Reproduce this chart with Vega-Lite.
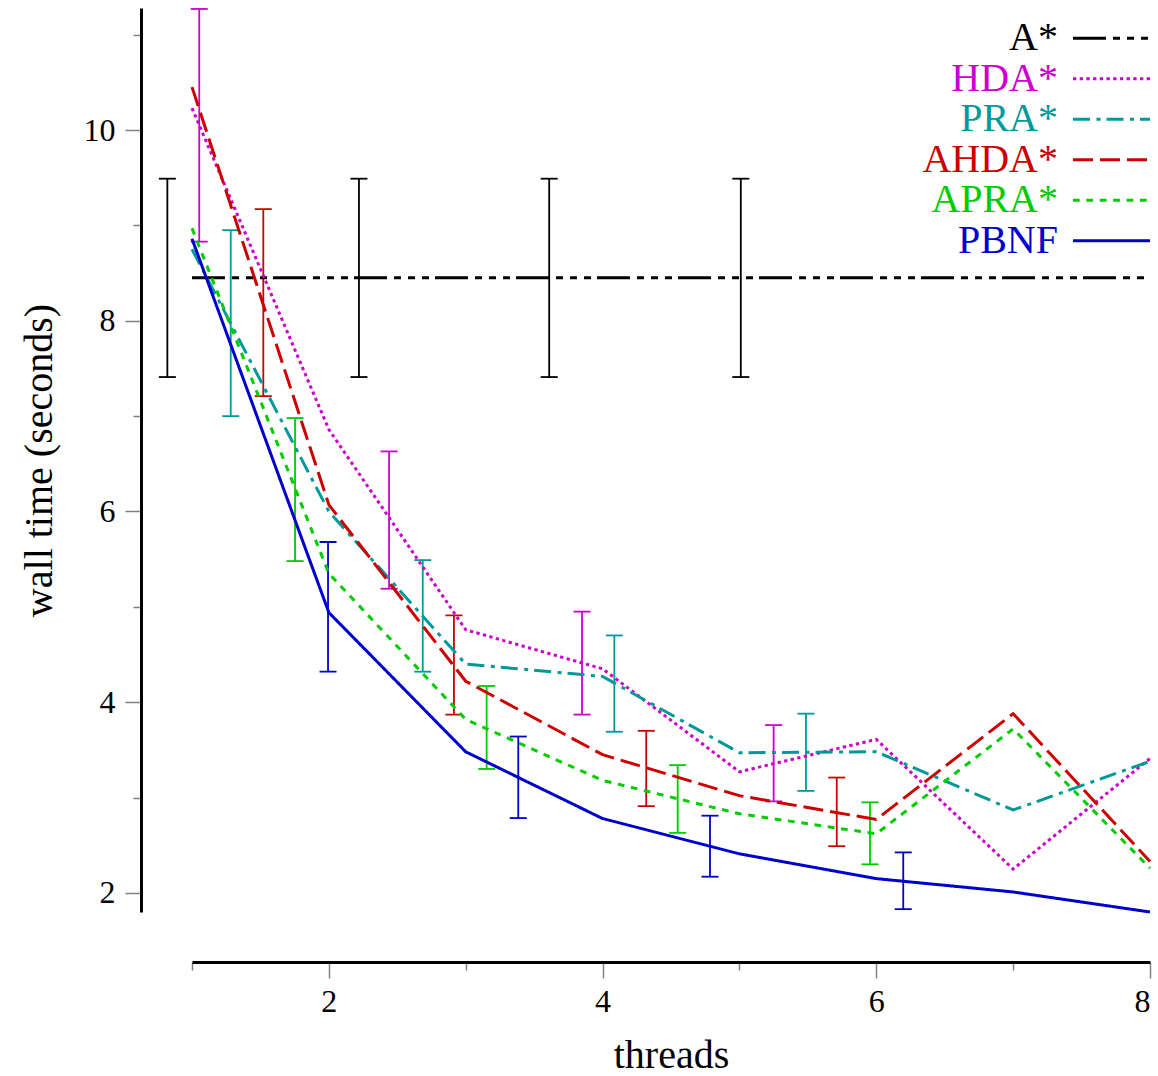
{
  "$schema": "https://vega.github.io/schema/vega-lite/v6.json",
  "width": 958,
  "height": 904,
  "autosize": {"type": "none"},
  "padding": {"left": 192, "top": 8, "right": 8, "bottom": 164},
  "background": "white",
  "config": {"view": {"stroke": null}, "font": "Liberation Serif"},
  "datasets": {
    "lines": [
      {"series": "A*", "threads": 1, "time": 8.45},
      {"series": "A*", "threads": 8, "time": 8.45},
      {"series": "HDA*", "threads": 1, "time": 10.23},
      {"series": "HDA*", "threads": 2, "time": 6.86},
      {"series": "HDA*", "threads": 3, "time": 4.76},
      {"series": "HDA*", "threads": 4, "time": 4.35},
      {"series": "HDA*", "threads": 5, "time": 3.27},
      {"series": "HDA*", "threads": 6, "time": 3.61},
      {"series": "HDA*", "threads": 7, "time": 2.25},
      {"series": "HDA*", "threads": 8, "time": 3.41},
      {"series": "PRA*", "threads": 1, "time": 8.75},
      {"series": "PRA*", "threads": 2, "time": 6.0},
      {"series": "PRA*", "threads": 3, "time": 4.4},
      {"series": "PRA*", "threads": 4, "time": 4.27},
      {"series": "PRA*", "threads": 5, "time": 3.47},
      {"series": "PRA*", "threads": 6, "time": 3.48},
      {"series": "PRA*", "threads": 7, "time": 2.87},
      {"series": "PRA*", "threads": 8, "time": 3.38},
      {"series": "AHDA*", "threads": 1, "time": 10.45},
      {"series": "AHDA*", "threads": 2, "time": 6.07},
      {"series": "AHDA*", "threads": 3, "time": 4.22},
      {"series": "AHDA*", "threads": 4, "time": 3.45},
      {"series": "AHDA*", "threads": 5, "time": 3.02},
      {"series": "AHDA*", "threads": 6, "time": 2.77},
      {"series": "AHDA*", "threads": 7, "time": 3.88},
      {"series": "AHDA*", "threads": 8, "time": 2.33},
      {"series": "APRA*", "threads": 1, "time": 8.97},
      {"series": "APRA*", "threads": 2, "time": 5.35},
      {"series": "APRA*", "threads": 3, "time": 3.82},
      {"series": "APRA*", "threads": 4, "time": 3.18},
      {"series": "APRA*", "threads": 5, "time": 2.83},
      {"series": "APRA*", "threads": 6, "time": 2.62},
      {"series": "APRA*", "threads": 7, "time": 3.72},
      {"series": "APRA*", "threads": 8, "time": 2.26},
      {"series": "PBNF", "threads": 1, "time": 8.86},
      {"series": "PBNF", "threads": 2, "time": 4.94},
      {"series": "PBNF", "threads": 3, "time": 3.48},
      {"series": "PBNF", "threads": 4, "time": 2.78},
      {"series": "PBNF", "threads": 5, "time": 2.41},
      {"series": "PBNF", "threads": 6, "time": 2.15},
      {"series": "PBNF", "threads": 7, "time": 2.01},
      {"series": "PBNF", "threads": 8, "time": 1.8}
    ],
    "bars": [
      {"series": "A*", "pos": 0.82, "lo": 7.41, "hi": 9.49},
      {"series": "A*", "pos": 2.22, "lo": 7.41, "hi": 9.49},
      {"series": "A*", "pos": 3.61, "lo": 7.41, "hi": 9.49},
      {"series": "A*", "pos": 5.01, "lo": 7.41, "hi": 9.49},
      {"series": "HDA*", "pos": 1.053, "lo": 8.83, "hi": 11.27},
      {"series": "HDA*", "pos": 2.44, "lo": 5.19, "hi": 6.63},
      {"series": "HDA*", "pos": 3.85, "lo": 3.87, "hi": 4.95},
      {"series": "HDA*", "pos": 5.25, "lo": 2.96, "hi": 3.76},
      {"series": "PRA*", "pos": 1.283, "lo": 7.0, "hi": 8.95},
      {"series": "PRA*", "pos": 2.686, "lo": 4.32, "hi": 5.49},
      {"series": "PRA*", "pos": 4.086, "lo": 3.69, "hi": 4.7},
      {"series": "PRA*", "pos": 5.486, "lo": 3.07, "hi": 3.88},
      {"series": "AHDA*", "pos": 1.521, "lo": 7.21, "hi": 9.17},
      {"series": "AHDA*", "pos": 2.914, "lo": 3.87, "hi": 4.91},
      {"series": "AHDA*", "pos": 4.319, "lo": 2.91, "hi": 3.7},
      {"series": "AHDA*", "pos": 5.711, "lo": 2.49, "hi": 3.21},
      {"series": "APRA*", "pos": 1.753, "lo": 5.48, "hi": 6.98},
      {"series": "APRA*", "pos": 3.153, "lo": 3.3, "hi": 4.17},
      {"series": "APRA*", "pos": 4.549, "lo": 2.63, "hi": 3.34},
      {"series": "APRA*", "pos": 5.954, "lo": 2.3, "hi": 2.95},
      {"series": "PBNF", "pos": 1.994, "lo": 4.32, "hi": 5.68},
      {"series": "PBNF", "pos": 3.384, "lo": 2.785, "hi": 3.64},
      {"series": "PBNF", "pos": 4.785, "lo": 2.17, "hi": 2.81},
      {"series": "PBNF", "pos": 6.197, "lo": 1.83, "hi": 2.425}
    ]
  },
  "layer": [
    {
      "data": {"name": "bars"},
      "mark": {"type": "rule", "strokeWidth": 1.8, "clip": false},
      "encoding": {
        "x": {"field": "pos", "type": "quantitative",
          "scale": {"domain": [1, 8], "nice": false, "zero": false},
          "axis": {"values": [1, 3, 5, 7], "orient": "bottom", "offset": 50, "tickSize": 8, "tickColor": "#808080", "tickWidth": 1.5, "labels": false, "domain": false, "title": null, "grid": false}},
        "y": {"field": "lo", "type": "quantitative",
          "scale": {"domain": [1.8, 11.28], "nice": false, "zero": false},
          "axis": {"values": [3, 5, 7, 9, 11], "orient": "left", "offset": 51, "tickSize": 8, "tickColor": "#808080", "tickWidth": 1.5, "labels": false, "domain": false, "title": null, "grid": false}},
        "y2": {"field": "hi"},
        "stroke": {"field": "series", "type": "nominal",
          "scale": {"domain": ["PBNF", "APRA*", "AHDA*", "PRA*", "HDA*", "A*"], "range": ["#0000cc", "#00cc00", "#cc0000", "#009999", "#cc00cc", "#000000"]},
          "legend": null}
      }
    },
    {
      "data": {"name": "bars"},
      "mark": {"type": "tick", "orient": "horizontal", "size": 17, "thickness": 1.8, "clip": false, "opacity": 1},
      "encoding": {
        "x": {"field": "pos", "type": "quantitative", "axis": null},
        "y": {"field": "lo", "type": "quantitative", "axis": null},
        "fill": {"field": "series", "type": "nominal",
          "scale": {"domain": ["PBNF", "APRA*", "AHDA*", "PRA*", "HDA*", "A*"], "range": ["#0000cc", "#00cc00", "#cc0000", "#009999", "#cc00cc", "#000000"]},
          "legend": null}
      }
    },
    {
      "data": {"name": "bars"},
      "mark": {"type": "tick", "orient": "horizontal", "size": 17, "thickness": 1.8, "clip": false, "opacity": 1},
      "encoding": {
        "x": {"field": "pos", "type": "quantitative", "axis": null},
        "y": {"field": "hi", "type": "quantitative", "axis": null},
        "fill": {"field": "series", "type": "nominal", "legend": null}
      }
    },
    {
      "data": {"name": "lines"},
      "mark": {"type": "line", "strokeWidth": 3, "clip": false},
      "encoding": {
        "x": {"field": "threads", "type": "quantitative",
          "axis": {"values": [2, 4, 6, 8], "orient": "bottom", "offset": 50, "tickSize": 16, "tickColor": "#808080", "tickWidth": 1.5, "domainColor": "#000000", "domainWidth": 3, "labelFont": "Liberation Serif", "labelFontSize": 32, "labelColor": "#000000", "labelPadding": 8, "format": "d", "grid": false, "title": "threads", "titleFont": "Liberation Serif", "titleFontSize": 40, "titleFontWeight": "normal", "titleColor": "#000000", "titlePadding": 18}},
        "y": {"field": "time", "type": "quantitative",
          "axis": {"values": [2, 4, 6, 8, 10], "orient": "left", "offset": 51, "tickSize": 16, "tickColor": "#808080", "tickWidth": 1.5, "domainColor": "#000000", "domainWidth": 3, "labelFont": "Liberation Serif", "labelFontSize": 32, "labelColor": "#000000", "labelPadding": 10, "format": "d", "grid": false, "title": "wall time (seconds)", "titleFont": "Liberation Serif", "titleFontSize": 40, "titleFontWeight": "normal", "titleColor": "#000000", "titlePadding": 24}},
        "color": {"field": "series", "type": "nominal",
          "scale": {"domain": ["A*", "HDA*", "PRA*", "AHDA*", "APRA*", "PBNF"], "range": ["#000000", "#cc00cc", "#009999", "#cc0000", "#00cc00", "#0000cc"]},
          "legend": {"orient": "none", "legendX": 717, "legendY": 10.3, "title": null, "padding": 0, "symbolType": "stroke", "symbolSize": 5929, "symbolStrokeWidth": 3, "symbolOffset": 162.5, "labelFont": "Liberation Serif", "labelFontSize": 40, "labelAlign": "right", "labelBaseline": "middle", "labelOffset": -93.5, "labelLimit": 400, "rowPadding": 0.5,
            "encode": {"labels": {"update": {"fill": {"scale": "color", "field": "value"}, "y": {"value": 20}}}, "symbols": {"update": {"y": {"value": 20}}}}}},
        "strokeDash": {"field": "series", "type": "nominal",
          "scale": {"domain": ["A*", "HDA*", "PRA*", "AHDA*", "APRA*", "PBNF"], "range": [[33, 7, 7, 7, 7, 7, 7, 6], [3.3, 3.4], [17, 6.5, 4, 6], [20, 7], [6.7, 6.7], [1, 0]]},
          "legend": {"orient": "none", "legendX": 717, "legendY": 10.3, "title": null, "padding": 0, "symbolType": "stroke", "symbolSize": 5929, "symbolStrokeWidth": 3, "symbolOffset": 162.5, "labelFont": "Liberation Serif", "labelFontSize": 40, "labelAlign": "right", "labelBaseline": "middle", "labelOffset": -93.5, "labelLimit": 400, "rowPadding": 0.5,
            "encode": {"labels": {"update": {"fill": {"scale": "color", "field": "value"}, "y": {"value": 20}}}, "symbols": {"update": {"y": {"value": 20}}}}}}
      }
    }
  ],
  "resolve": {"axis": {"x": "independent", "y": "independent"}}
}
